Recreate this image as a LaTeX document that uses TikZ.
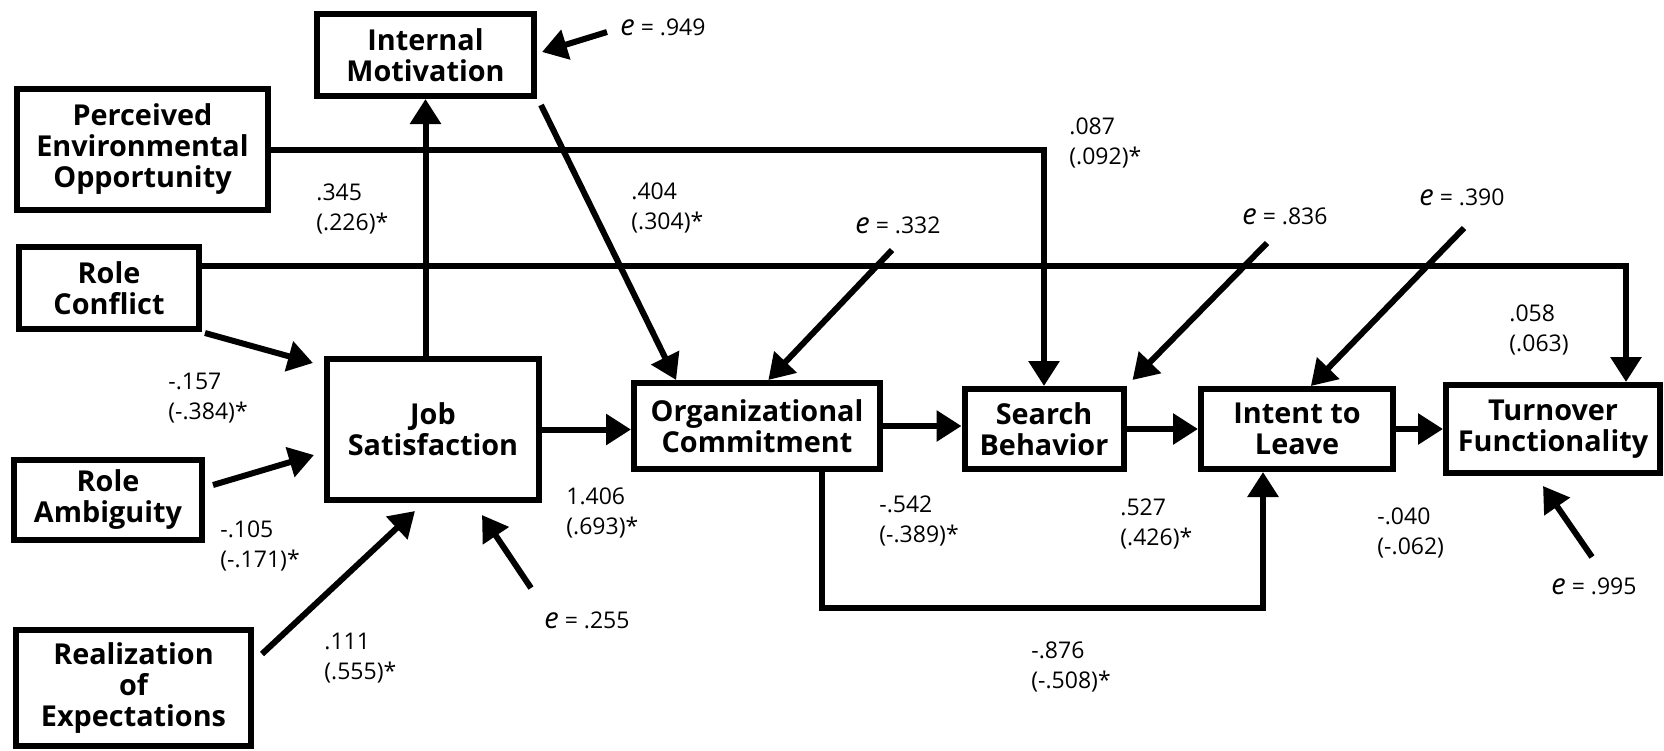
\documentclass[tikz,border=0pt]{standalone}
\usepackage{fontspec}
\setmainfont{Open Sans}
\usetikzlibrary{arrows.meta,calc}
\newcommand{\ee}{{\fontsize{14.5}{15}\selectfont\itshape e}}
\begin{document}
\begin{tikzpicture}[x=0.5pt,y=-0.5pt,
  box/.style={draw, line width=3pt, inner sep=0pt, align=center,
    font=\bfseries\fontsize{14.4}{15.5}\selectfont},
  arr/.style={line width=3pt, -{Triangle[length=12.5pt,width=15pt]}},
  coef/.style={anchor=west, inner sep=0pt, align=left,
    font=\fontsize{11.5}{15}\selectfont},
  errlbl/.style={anchor=west, inner sep=0pt, font=\fontsize{11.5}{15}\selectfont}]
\useasboundingbox (0,0) rectangle (1664,750);

% variables
\node[box, minimum width=108.5pt, minimum height=41pt] (IM) at (425.5,55) {Internal\\Motivation};
\node[box, minimum width=125.5pt, minimum height=60.5pt] (PEO) at (142.5,149.5) {Perceived\\Environmental\\Opportunity};
\node[box, minimum width=90pt, minimum height=41pt] (RC) at (109,288) {Role\\Conflict};
\node[box, minimum width=94pt, minimum height=40pt] (RA) at (108,500) {Role\\Ambiguity};
\node[box, minimum width=117.5pt, minimum height=58pt] (RE) at (133.5,688) {Realization\\of\\Expectations};
\node[box, minimum width=106pt, minimum height=70.5pt] (JS) at (433,429.5) {Job\\Satisfaction};
\node[box, minimum width=123pt, minimum height=43pt] (OC) at (757,426) {Organizational\\Commitment};
\node[box, minimum width=79.5pt, minimum height=40pt] (SB) at (1044,429) {Search\\Behavior};
\node[box, minimum width=96pt, minimum height=40pt] (IL) at (1297,429) {Intent to\\Leave};
\node[box, minimum width=107pt, minimum height=44pt] (TF) at (1553,429) {Turnover\\Functionality};

% residual labels
\node[errlbl] (e949) at (620,27) {\ee\ = .949};
\node[errlbl] (e332) at (855,225) {\ee\ = .332};
\node[errlbl] (e836) at (1242,216) {\ee\ = .836};
\node[errlbl] (e390) at (1419,197) {\ee\ = .390};
\node[errlbl] (e255) at (544,620) {\ee\ = .255};
\node[errlbl] (e995) at (1551,586) {\ee\ = .995};

% tails of residual arrows
\coordinate (t949) at (607,32);
\coordinate (t332) at (892,250);
\coordinate (t836) at (1267,243);
\coordinate (t390) at (1464,228);
\coordinate (t255) at (531,588);
\coordinate (t995) at (1592,557);

% bends of the long paths
\coordinate (rcTurn) at (1626,266);
\coordinate (elbowL) at (822,608);
\coordinate (elbowR) at (1263,608);

% structural paths
\draw[arr] (IM.south |- JS.north) -- (IM.south);
\draw[arr] ($(IM.south east)+(4,6)$) -- ($(OC.north west)!0.179!(OC.north east)$);
\draw[arr] (PEO.east) -| (SB.north);
\draw[arr] (RC.east |- rcTurn) -- (rcTurn) -- (TF.north -| rcTurn);
\draw[arr] ($(RC.south east)+(3,1)$) -- ($(JS.north west)+(-11,7)$);
\draw[arr] ($(RA.east)+(8,-15)$) -- ($(JS.west)+(-10,25.5)$);
\draw[arr] ($(RE.north east)+(8,27)$) -- ($(JS.south)+(-18,8)$);
\draw[arr] (JS.east) -- (JS.east -| OC.west);
\draw[arr] (OC.east) -- (OC.east -| SB.west);
\draw[arr] (SB.east) -- (SB.east -| IL.west);
\draw[arr] (IL.east) -- (IL.east -| TF.west);
\draw[arr] (OC.south -| elbowL) -- (elbowL) -- (elbowR) -- (IL.south -| elbowR);

% residual arrows
\draw[arr] (t949) -- ($(IM.east)+(5,-3)$);
\draw[arr] (t332) -- ($(OC.north west)!0.545!(OC.north east)$);
\draw[arr] (t836) -- ($(SB.north east)+(6,-6)$);
\draw[arr] (t390) -- ($(IL.north west)!0.57!(IL.north east)$);
\draw[arr] (t255) -- ($(JS.south)+(49,12)$);
\draw[arr] (t995) -- ($(TF.south)+(-10,10)$);

% path coefficients
\node[coef] (c1) at (316,209) {.345\\(.226)*};
\node[coef] (c2) at (631,208) {.404\\(.304)*};
\node[coef] (c3) at (1069,143) {.087\\(.092)*};
\node[coef] (c4) at (1509,330) {.058\\(.063)};
\node[coef] (c5) at (168,398) {-.157\\(-.384)*};
\node[coef] (c6) at (220,546) {-.105\\(-.171)*};
\node[coef] (c7) at (324,658) {.111\\(.555)*};
\node[coef] (c8) at (566,513) {1.406\\(.693)*};
\node[coef] (c9) at (879,521) {-.542\\(-.389)*};
\node[coef] (c10) at (1120,524) {.527\\(.426)*};
\node[coef] (c11) at (1377,533) {-.040\\(-.062)};
\node[coef] (c12) at (1031,667) {-.876\\(-.508)*};
\end{tikzpicture}
\end{document}
